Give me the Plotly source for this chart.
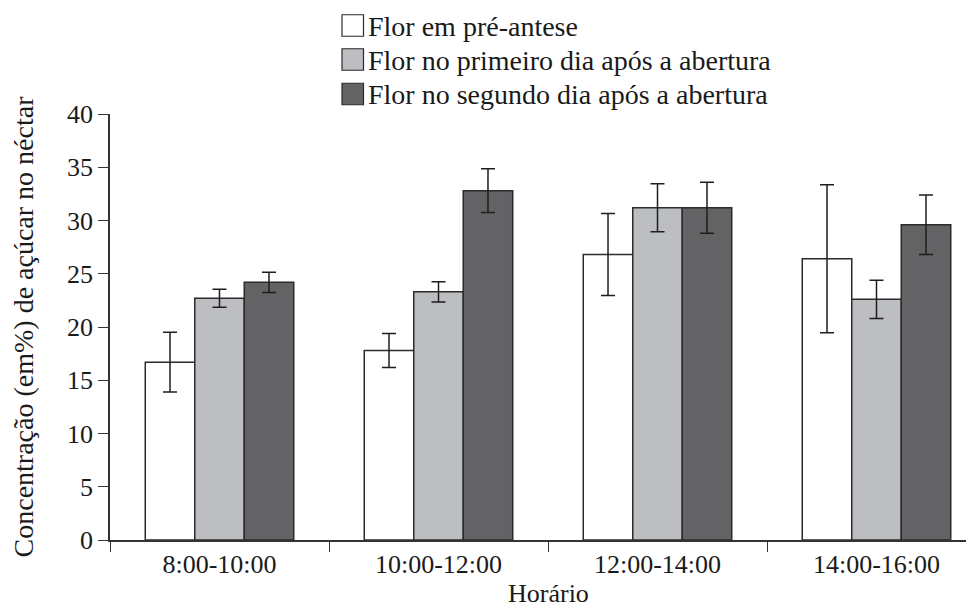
import plotly.graph_objects as go

categories = ["8:00-10:00", "10:00-12:00", "12:00-14:00", "14:00-16:00"]
series_names = ["Flor em pré-antese",
                "Flor no primeiro dia após a abertura",
                "Flor no segundo dia após a abertura"]
pre_antese = [16.7, 17.8, 26.8, 26.4]
pre_antese_err = [2.8, 1.6, 3.85, 6.95]
primeiro_dia = [22.7, 23.3, 31.2, 22.6]
primeiro_dia_err = [0.85, 0.95, 2.25, 1.8]
segundo_dia = [24.2, 32.8, 31.2, 29.6]
segundo_dia_err = [0.95, 2.05, 2.4, 2.8]
y_ticks = [0, 5, 10, 15, 20, 25, 30, 35, 40]

colors = ["#ffffff", "#bdbec2", "#636365"]
FONT = "Liberation Serif"
OFF = 8  # page body margin
W, H = 974 - OFF, 608 - OFF
L, R, T, B = 110 - OFF, 0, 114 - OFF, 68

fig = go.Figure()
for name, vals, errs, col in zip(series_names,
                                 [pre_antese, primeiro_dia, segundo_dia],
                                 [pre_antese_err, primeiro_dia_err, segundo_dia_err],
                                 colors):
    fig.add_trace(go.Bar(
        x=categories, y=vals, name=name,
        marker=dict(color=col, line=dict(color="#2b2b2b", width=1.5)),
        error_y=dict(type="data", array=errs, visible=True,
                     color="#1e1e1e", thickness=1.5, width=7),
        showlegend=False,
    ))

pw, ph = W - L - R, H - T - B
def px_x(p):
    return (p - OFF - L) / pw
def px_y(p):
    return (H - B - (p - OFF)) / ph

# manual legend (swatches + real text)
rows_y = [25.5, 59.5, 94.0]
box = 21.5
for name, col, cy in zip(series_names, colors, rows_y):
    fig.add_shape(type="rect", xref="paper", yref="paper",
                  x0=px_x(342), x1=px_x(342 + box),
                  y0=px_y(cy + box / 2), y1=px_y(cy - box / 2),
                  fillcolor=col, line=dict(color="#2b2b2b", width=1.2))
    fig.add_annotation(xref="paper", yref="paper", x=px_x(366), y=px_y(cy + 1),
                       text=name, showarrow=False, xanchor="left", yanchor="middle",
                       font=dict(family=FONT, size=28, color="#1a1a1a"))

fig.add_annotation(xref="paper", yref="paper", x=px_x(548), y=px_y(610),
                   text="Horário", showarrow=False, xanchor="center", yanchor="bottom",
                   font=dict(family=FONT, size=26, color="#1a1a1a"))

fig.update_layout(
    width=W, height=H,
    margin=dict(l=L, r=R, t=T, b=B, pad=0),
    plot_bgcolor="white", paper_bgcolor="white",
    bargap=0.322, bargroupgap=0, barmode="group",
    font=dict(family=FONT, size=26, color="#1a1a1a"),
    xaxis=dict(
        type="category", range=[-0.5, -0.5 + pw / 219.0],
        tickson="boundaries", ticks="outside", ticklen=10, tickwidth=1.3,
        tickcolor="#333", showline=True, linecolor="#333", linewidth=1.5,
        showgrid=False, zeroline=False,
        tickfont=dict(family=FONT, size=26),
    ),
    yaxis=dict(
        range=[0, 40], tickmode="array", tickvals=y_ticks,
        ticks="outside", ticklen=10, tickwidth=1.3, tickcolor="#333",
        showline=True, linecolor="#333", linewidth=1.5,
        showgrid=False, zeroline=False,
        tickfont=dict(family=FONT, size=26),
        title=dict(text="Concentração (em%) de açúcar no néctar",
                   font=dict(family=FONT, size=28), standoff=26),
    ),
)

fig.write_html("out.html")
